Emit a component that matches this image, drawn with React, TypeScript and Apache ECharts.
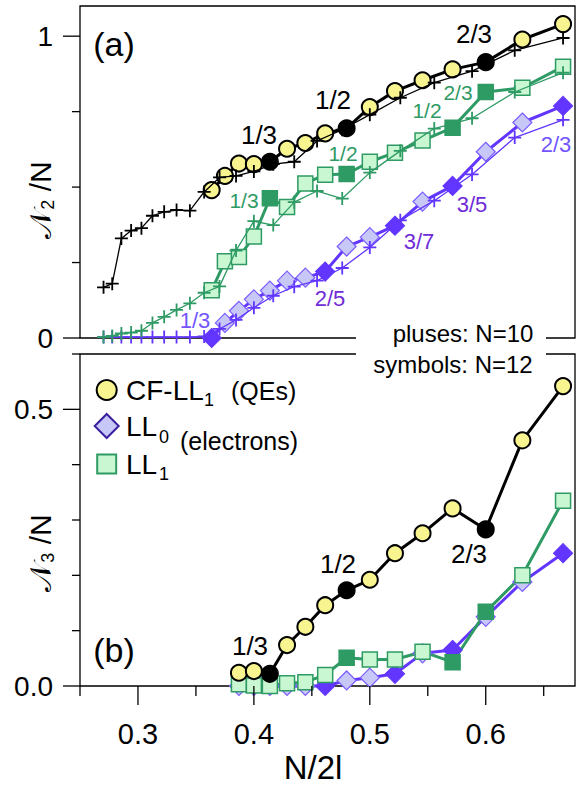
import React, { useEffect, useRef } from 'react';
import * as echarts from 'echarts';

// ---------- data ----------
// N = 12 abscissae (N/2l)
const x12 = [0.3636, 0.375, 0.3871, 0.4, 0.4138, 0.4286, 0.4444, 0.4615, 0.48, 0.5, 0.5217, 0.5455, 0.5714, 0.6, 0.6316, 0.6667];
// N = 12 abscissae used in panel (b)
const x12b = [0.3871, 0.4, 0.4138, 0.4286, 0.4444, 0.4615, 0.48, 0.5, 0.5217, 0.5455, 0.5714, 0.6, 0.6316, 0.6667];
// N = 10 abscissae
const x10 = [0.2703, 0.2778, 0.2857, 0.2941, 0.303, 0.3125, 0.3226, 0.3333, 0.3448, 0.3571, 0.3704, 0.3846, 0.4, 0.4167, 0.4348, 0.4545, 0.4762, 0.5, 0.5263, 0.5556, 0.5882, 0.625, 0.6667];

// panel (a): N2/N
const cfTop12 = [0.49, 0.537, 0.578, 0.576, 0.584, 0.627, 0.646, 0.678, 0.695, 0.765, 0.818, 0.854, 0.89, 0.914, 0.989, 1.04];
const cfTop10 = [0.168, 0.18, 0.33, 0.356, 0.364, 0.405, 0.418, 0.424, 0.422, 0.484, 0.532, 0.537, 0.552, 0.576, 0.584, 0.653, 0.69, 0.74, 0.796, 0.846, 0.884, 0.953, 0.994];
const ll1Top12 = [0.158, 0.254, 0.268, 0.336, 0.463, 0.434, 0.512, 0.541, 0.543, 0.584, 0.614, 0.654, 0.697, 0.815, 0.829, 0.899];
const ll1Top10 = [0.003, 0.007, 0.015, 0.018, 0.024, 0.05, 0.07, 0.093, 0.115, 0.15, 0.171, 0.29, 0.387, 0.374, 0.45, 0.487, 0.462, 0.548, 0.62, 0.694, 0.728, 0.815, 0.879];
const ll0Top12 = [0.0, 0.05, 0.09, 0.128, 0.157, 0.19, 0.2, 0.22, 0.303, 0.334, 0.372, 0.452, 0.504, 0.617, 0.714, 0.769];
const ll0Top10 = [0.003, 0.003, 0.003, 0.003, 0.003, 0.003, 0.003, 0.003, 0.003, 0.005, 0.03, 0.06, 0.1, 0.14, 0.17, 0.19, 0.232, 0.3, 0.39, 0.455, 0.542, 0.664, 0.723];

// panel (b): N3/N
const cfBot12 = [0.024, 0.027, 0.022, 0.074, 0.107, 0.146, 0.173, 0.192, 0.24, 0.276, 0.321, 0.283, 0.444, 0.542];
const ll1Bot12 = [0.003, 0.001, 0.0, 0.005, 0.007, 0.02, 0.051, 0.048, 0.048, 0.062, 0.043, 0.134, 0.2, 0.335];
const ll0Bot12 = [0.0, 0.0, 0.0, 0.0, 0.0, 0.0, 0.01, 0.015, 0.022, 0.059, 0.065, 0.125, 0.188, 0.24];

// abscissae of the highlighted (filled) states
const cfFilled = [0.4138, 0.48, 0.6];
const ll1FilledTop = [0.4138, 0.48, 0.5714, 0.6];
const ll1FilledBot = [0.48, 0.5714, 0.6];
const ll0FilledTop = [0.3636, 0.4615, 0.5217, 0.5714, 0.6667];
const ll0FilledBot = [0.4615, 0.5217, 0.5714, 0.6667];

// axis ticks
const xTicksMajor = [0.3, 0.4, 0.5, 0.6];
const xTicksMinor = [0.25, 0.35, 0.45, 0.55, 0.65];
const yTopMajor = [0, 1];
const yTopMinor = [0.25, 0.5, 0.75];
const yBotMajor = [0, 0.5];
const yBotMinor = [0.1, 0.2, 0.3, 0.4, 0.6];

const X_MIN = 0.25;
const X_MAX = 0.677;

const FONT = "'Liberation Sans', Arial, Helvetica, sans-serif";
const BLACK = '#000000';
const YELLOW = '#f8f490';
const GREEN = '#2e9a64';
const GREEN_LIGHT = '#c9f7d2';
const PURPLE = '#6236ff';
const PURPLE_LIGHT = '#c8c8f8';
const PURPLE_EDGE = '#7a5cff';
const PLUS = 'path://M4.3,0H5.7V4.3H10V5.7H5.7V10H4.3V5.7H0V4.3H4.3Z';

function pts(xs: number[], ys: number[], filled: number[], color: string) {
  return xs.map((x, i) => {
    const isF = filled.some((f) => Math.abs(f - x) < 1e-4);
    return isF
      ? { value: [x, ys[i]], itemStyle: { color, borderColor: color } }
      : [x, ys[i]];
  });
}

function plusSeries(idx: number, xs: number[], ys: number[], color: string) {
  return {
    type: 'line',
    xAxisIndex: idx,
    yAxisIndex: idx,
    data: xs.map((x, i) => [x, ys[i]]),
    symbol: PLUS,
    symbolSize: 13,
    showAllSymbol: true,
    clip: false,
    lineStyle: { color, width: 1.3 },
    itemStyle: { color, borderWidth: 0 },
    z: 4,
  };
}

function symSeries(idx: number, xs: number[], ys: number[], filled: number[], kind: string) {
  let symbol = 'circle', size = 16, fill = YELLOW, edge = BLACK, line = BLACK, fc = BLACK, bw = 2;
  if (kind === 'll1') { symbol = 'rect'; size = 15; fill = GREEN_LIGHT; edge = GREEN; line = GREEN; fc = GREEN; bw = 1.5; }
  if (kind === 'll0') { symbol = 'diamond'; size = 19; fill = PURPLE_LIGHT; edge = PURPLE_EDGE; line = PURPLE; fc = PURPLE; bw = 1.2; }
  return {
    type: 'line',
    xAxisIndex: idx,
    yAxisIndex: idx,
    data: pts(xs, ys, filled, fc),
    symbol,
    symbolSize: size,
    showAllSymbol: true,
    clip: false,
    lineStyle: { color: line, width: 3 },
    itemStyle: { color: fill, borderColor: edge, borderWidth: bw },
    z: 3,
  };
}

function tickSeries(idx: number, axis: 'x' | 'y', values: number[], len: number) {
  return {
    type: 'custom',
    xAxisIndex: idx,
    yAxisIndex: idx,
    silent: true,
    z: 6,
    data: values.map((v) => (axis === 'x' ? [v, 0] : [X_MIN, v])),
    renderItem: (_p: any, api: any) => {
      const p = api.coord([api.value(0), api.value(1)]);
      const shape = axis === 'x'
        ? { x1: p[0], y1: p[1], x2: p[0], y2: p[1] + len }
        : { x1: p[0] - len, y1: p[1], x2: p[0], y2: p[1] };
      return { type: 'line', shape, style: { stroke: BLACK, lineWidth: 1.3 } };
    },
  };
}

function label(text: string, x: number, y: number, color: string, size: number) {
  return {
    type: 'text',
    x,
    y,
    z: 50,
    style: { text, fill: color, fontSize: size, fontFamily: FONT, align: 'center', verticalAlign: 'middle' },
  };
}

function leftText(text: string, x: number, y: number, size: number) {
  return {
    type: 'text',
    x,
    y,
    z: 50,
    style: { text, fill: BLACK, fontSize: size, fontFamily: FONT, align: 'left', verticalAlign: 'middle' },
  };
}

function yTitle(sub: string, x: number, y: number) {
  return {
    type: 'text',
    x,
    y,
    rotation: Math.PI / 2,
    z: 50,
    style: {
      text: `{s|𝒩}{b|${sub}}{c| /N}`,
      fill: BLACK,
      align: 'center',
      verticalAlign: 'middle',
      rich: {
        s: { fontSize: 30, fontFamily: "'DejaVu Serif', serif", fill: BLACK, verticalAlign: 'middle', lineHeight: 34 },
        b: { fontSize: 18, fontFamily: FONT, fill: BLACK, verticalAlign: 'bottom', padding: [14, 0, 0, 0] },
        c: { fontSize: 30, fontFamily: FONT, fill: BLACK, verticalAlign: 'middle', lineHeight: 34 },
      },
    },
  };
}

export default function App() {
  const ref = useRef<HTMLDivElement>(null);
  useEffect(() => {
    if (!ref.current) return;
    const chart = echarts.init(ref.current, undefined, { renderer: 'svg' });
    const option: any = {
      animation: false,
      backgroundColor: '#ffffff',
      grid: [
        { left: 80, top: 6, width: 495, height: 332, show: true, borderColor: BLACK, borderWidth: 1.3, backgroundColor: 'transparent' },
        { left: 80, top: 354, width: 495, height: 332, show: true, borderColor: BLACK, borderWidth: 1.3, backgroundColor: 'transparent' },
      ],
      xAxis: [
        { type: 'value', gridIndex: 0, min: X_MIN, max: X_MAX, show: false },
        {
          type: 'value', gridIndex: 1, min: X_MIN, max: X_MAX, interval: 0.05,
          axisLine: { show: false }, axisTick: { show: false }, splitLine: { show: false },
          axisLabel: {
            margin: 33, fontSize: 29, fontFamily: FONT, color: BLACK,
            formatter: (v: number) => {
              const r = Math.round(v * 100);
              return r % 10 === 0 && r >= 30 && r <= 60 ? (r / 100).toFixed(1) : '';
            },
          },
        },
      ],
      yAxis: [
        {
          type: 'value', gridIndex: 0, min: 0, max: 1.1, interval: 0.25,
          axisLine: { show: false }, axisTick: { show: false }, splitLine: { show: false },
          axisLabel: {
            margin: 27, fontSize: 28, fontFamily: FONT, color: BLACK,
            formatter: (v: number) => (Math.abs(v) < 1e-9 ? '0' : Math.abs(v - 1) < 1e-9 ? '1' : ''),
          },
        },
        {
          type: 'value', gridIndex: 1, min: 0, max: 0.6, interval: 0.1,
          axisLine: { show: false }, axisTick: { show: false }, splitLine: { show: false },
          axisLabel: {
            margin: 27, fontSize: 28, fontFamily: FONT, color: BLACK,
            formatter: (v: number) => (Math.abs(v) < 1e-9 ? '0.0' : Math.abs(v - 0.5) < 1e-9 ? '0.5' : ''),
          },
        },
      ],
      series: [
        // panel (a)
        symSeries(0, x12, ll0Top12, ll0FilledTop, 'll0'),
        symSeries(0, x12, ll1Top12, ll1FilledTop, 'll1'),
        symSeries(0, x12, cfTop12, cfFilled, 'cf'),
        plusSeries(0, x10, ll0Top10, PURPLE),
        plusSeries(0, x10, ll1Top10, GREEN),
        plusSeries(0, x10, cfTop10, BLACK),
        // panel (b)
        symSeries(1, x12b, ll0Bot12, ll0FilledBot, 'll0'),
        symSeries(1, x12b, ll1Bot12, ll1FilledBot, 'll1'),
        symSeries(1, x12b, cfBot12, cfFilled, 'cf'),
        // ticks
        tickSeries(1, 'x', xTicksMajor, 19),
        tickSeries(1, 'x', xTicksMinor, 10),
        tickSeries(0, 'y', yTopMajor, 17),
        tickSeries(0, 'y', yTopMinor, 8),
        tickSeries(1, 'y', yBotMajor, 17),
        tickSeries(1, 'y', yBotMinor, 8),
      ],
      graphic: [
        // break in the frame lines
        { type: 'rect', z: 40, shape: { x: 356, y: 328, width: 190, height: 32 }, style: { fill: '#ffffff' } },
        label('pluses: N=10', 463, 333, BLACK, 24),
        label('symbols: N=12', 453, 364, BLACK, 24),
        // panel tags
        label('(a)', 114, 44, BLACK, 34),
        label('(b)', 114, 650, BLACK, 34),
        // black fractions
        label('1/3', 259, 135, BLACK, 26),
        label('1/2', 333, 100, BLACK, 26),
        label('2/3', 474, 34, BLACK, 26),
        label('1/3', 250, 646, BLACK, 26),
        label('1/2', 338, 564, BLACK, 26),
        label('2/3', 469, 554, BLACK, 26),
        // green fractions
        label('1/3', 244, 200, GREEN, 21),
        label('1/2', 343, 153, GREEN, 21),
        label('1/2', 427, 110, GREEN, 21),
        label('2/3', 458, 92, GREEN, 21),
        // purple fractions
        label('1/3', 195, 320, '#7255ff', 22),
        label('2/5', 330, 298, '#6f2ad8', 22),
        label('3/7', 419, 241, '#6f2ad8', 22),
        label('3/5', 472, 204, '#6f2ad8', 22),
        label('2/3', 556, 144, '#7255ff', 22),
        // legend
        { type: 'circle', z: 50, shape: { cx: 106.7, cy: 390, r: 10 }, style: { fill: YELLOW, stroke: BLACK, lineWidth: 2 } },
        leftText('CF-LL', 126, 390, 28),
        leftText('1', 204, 400, 18),
        leftText('(QEs)', 231, 391, 25),
        { type: 'polygon', z: 50, shape: { points: [[106.7, 414], [118.7, 426], [106.7, 438], [94.7, 426]] }, style: { fill: PURPLE_LIGHT, stroke: '#3b1f9e', lineWidth: 2 } },
        leftText('LL', 126, 426, 28),
        leftText('0', 159, 437, 18),
        leftText('(electrons)', 180, 441, 25),
        { type: 'rect', z: 50, shape: { x: 97.2, y: 454.5, width: 19, height: 19 }, style: { fill: GREEN_LIGHT, stroke: GREEN, lineWidth: 2 } },
        leftText('LL', 126, 464, 28),
        leftText('1', 159, 474, 18),
        // axis titles
        yTitle('2', 40, 200),
        yTitle('3', 40, 553),
        label('N/2l', 313, 767, BLACK, 33),
      ],
    };
    chart.setOption(option);
    return () => chart.dispose();
  }, []);
  return <div ref={ref} style={{ position: 'absolute', left: 0, top: 0, width: 578, height: 785, background: '#fff' }} />;
}
